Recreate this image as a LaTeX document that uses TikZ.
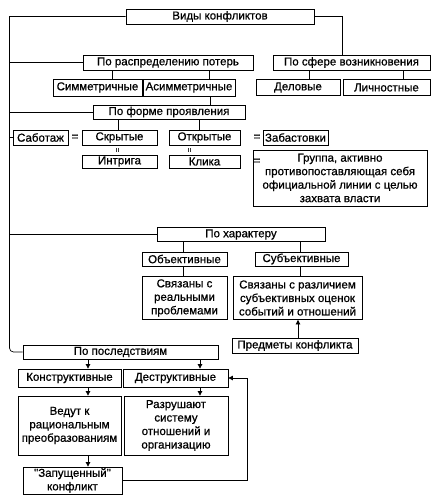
\documentclass[tikz,border=0pt]{standalone}
\usepackage{fontspec}
\setmainfont{Liberation Sans}
\newfontfamily\boxfont{Liberation Sans}[FakeBold=0.7]
\usetikzlibrary{arrows.meta,calc}
\begin{document}
\begin{tikzpicture}[x=1pt,y=-1pt,
  box/.style={draw, line width=0.8pt, fill=white, inner sep=0.5pt, align=center,
    font=\boxfont\fontsize{11.5}{13.5}\selectfont},
  ln/.style={line width=0.7pt},
  arr/.style={line width=0.7pt, -{Triangle[length=4.5pt,width=4.5pt]}},
  eq/.style={inner sep=0pt, font=\boxfont\fontsize{11.5}{12}\selectfont}]
\useasboundingbox (0,0) rectangle (438,501);
\fill[white] (0,0) rectangle (438,501);

% nodes
\node[box, minimum width=188, minimum height=15] (vidy) at (220,16.5) {Виды конфликтов};
\node[box, minimum width=170, minimum height=15] (raspr) at (168,62.5) {По распределению потерь};
\node[box, minimum width=157, minimum height=15] (sfera) at (351.5,62.5) {По сфере возникновения};
\node[box, minimum width=89, minimum height=17] (sim) at (97.5,87.5) {Симметричные};
\node[box, minimum width=92, minimum height=17] (asim) at (189,87.5) {Асимметричные};
\node[box, minimum width=84, minimum height=16] (delo) at (298,87.5) {Деловые};
\node[box, minimum width=87, minimum height=16] (lich) at (386.5,87.5) {Личностные};
\node[box, minimum width=152, minimum height=14] (forma) at (169,112) {По форме проявления};
\node[box, minimum width=55, minimum height=15] (sabot) at (40.5,137.5) {Саботаж};
\node[box, minimum width=75, minimum height=15] (skryt) at (119.5,137.5) {Скрытые};
\node[box, minimum width=71, minimum height=15] (otkr) at (204.5,137.5) {Открытые};
\node[box, minimum width=65, minimum height=15] (zabast) at (295.5,137.5) {Забастовки};
\node[box, minimum width=75, minimum height=13] (intr) at (119.5,161.5) {Интрига};
\node[box, minimum width=71, minimum height=13] (klika) at (204.5,161.5) {Клика};
\node[box, minimum width=174, minimum height=56] (gruppa) at (340,178) {Группа, активно\\противопоставляющая себя\\официальной линии с целью\\захвата власти};
\node[box, minimum width=168, minimum height=14] (harakter) at (241,234.5) {По характеру};
\node[box, minimum width=85, minimum height=14] (obj) at (184.5,259) {Объективные};
\node[box, minimum width=93, minimum height=14] (subj) at (301.5,259) {Субъективные};
\node[box, minimum width=85, minimum height=43] (svreal) at (184.5,298) {Связаны с\\реальными\\проблемами};
\node[box, minimum width=129, minimum height=43] (svrazl) at (297.5,298) {Связаны с различием\\субъективных оценок\\событий и отношений};
\node[box, minimum width=126, minimum height=15] (predm) at (295,345.5) {Предметы конфликта};
\node[box, minimum width=195, minimum height=14] (posled) at (120.5,352) {По последствиям};
\node[box, minimum width=103, minimum height=18] (konstr) at (69.5,378) {Конструктивные};
\node[box, minimum width=105, minimum height=18] (destr) at (175.5,378) {Деструктивные};
\node[box, minimum width=103, minimum height=59] (vedut) at (69.5,425.5) {Ведут к\\рациональным\\преобразованиям};
\node[box, minimum width=104, minimum height=59] (razr) at (176,425.5) {Разрушают\\систему\\отношений и\\организацию};
\node[box, minimum width=99, minimum height=27] (zapusch) at (72.5,480.5) {"Запущенный"\\конфликт};

% equals signs
\node[eq] (e1) at (75,137.5) {=};
\node[eq] (e2) at (257,137.5) {=};
\node[eq] (e3) at (257,161.5) {=};
\node[eq, rotate=90, font=\boxfont\fontsize{8}{9}\selectfont] (e4) at (118,150) {=};
\node[eq, rotate=90, font=\boxfont\fontsize{8}{9}\selectfont] (e5) at (190,150) {=};

% helper coordinates
\coordinate (trunk) at (9.5,200);
\coordinate (rt) at (342,0);
\coordinate (x112) at (112,0);
\coordinate (x209) at (209,0);
\coordinate (x309) at (309,0);
\coordinate (x403) at (403,0);
\coordinate (x210) at (210,0);
\coordinate (x118) at (118,0);
\coordinate (x199) at (199,0);
\coordinate (x183) at (183,0);
\coordinate (x300) at (300,0);
\coordinate (x298) at (298,0);
\coordinate (x88) at (88,0);
\coordinate (x200) at (200,0);
\coordinate (fb) at (247,0);

% trunk on the left
\draw[ln] (vidy.west) -| (trunk) [rounded corners=4pt] |- (posled.west);
\draw[ln] (raspr.west) -- (raspr.west -| trunk);
\draw[ln] (forma.west) -- (forma.west -| trunk);
\draw[ln] (sabot.west) -- (sabot.west -| trunk);
\draw[ln] (harakter.west) -- (harakter.west -| trunk);

% right branch
\draw[ln] (vidy.east) -| (sfera.north -| rt);
\draw[ln] (sfera.south -| x309) -- (delo.north -| x309);
\draw[ln] (sfera.south -| x403) -- (lich.north -| x403);

% distribution of losses
\draw[ln] (raspr.south -| x112) -- (sim.north -| x112);
\draw[ln] (raspr.south -| x209) -- (asim.north -| x209);
\draw[ln] (asim.south -| x210) -- (forma.north -| x210);
\draw[ln] (forma.south -| x118) -- (skryt.north -| x118);
\draw[ln] (forma.south -| x199) -- (otkr.north -| x199);

% character
\draw[ln] (harakter.south -| x183) -- (obj.north -| x183);
\draw[ln] (harakter.south -| x300) -- (subj.north -| x300);
\draw[ln] (obj.south -| x183) -- (svreal.north -| x183);
\draw[ln] (subj.south -| x300) -- (svrazl.north -| x300);
\draw[arr] (predm.north -| x298) -- (svrazl.south -| x298);

% consequences
\draw[arr] (posled.south -| x88) -- (konstr.north -| x88);
\draw[arr] (posled.south -| x200) -- (destr.north -| x200);
\draw[arr] (konstr.south -| x88) -- (vedut.north -| x88);
\draw[arr] (destr.south -| x200) -- (razr.north -| x200);
\draw[arr] (vedut.south -| x88) -- (zapusch.north -| x88);
\draw[arr] (zapusch.east) -| (destr.east -| fb) -- (destr.east);
\end{tikzpicture}
\end{document}
